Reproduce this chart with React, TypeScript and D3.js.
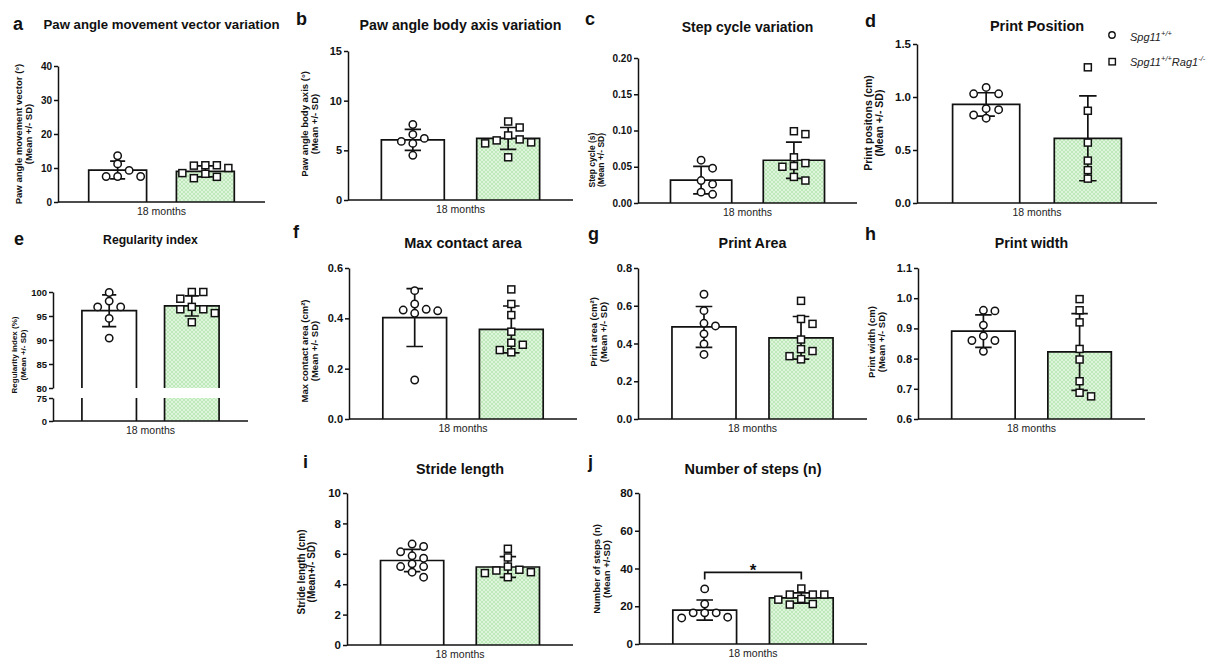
import React, { useRef, useEffect } from 'react';
import * as d3 from 'd3';

const FONT = '"Liberation Sans", Arial, Helvetica, sans-serif';

// two genotypes, one time point
const groups = ['Spg11+/+', 'Spg11+/+Rag1-/-'];
const category = '18 months';

// a - paw angle movement vector (°)
const pawMoveWT = [13.6, 11.2, 9.3, 7.5, 7.5, 7.5];
const pawMoveRag = [10.8, 10.8, 10.7, 10.0, 8.5, 8.3, 7.4, 7.0];
const pawMoveMean = [9.4, 9.0];
const pawMoveSD = [2.6, 1.6];
const pawMoveTicks = [0, 10, 20, 30, 40];

// b - paw angle body axis (°)
const pawBodyWT = [7.6, 6.6, 6.2, 5.9, 5.7, 4.5];
const pawBodyRag = [7.9, 7.3, 6.5, 6.1, 6.0, 5.8, 5.7, 4.3];
const pawBodyMean = [6.05, 6.2];
const pawBodySD = [1.05, 1.1];
const pawBodyTicks = [0, 5, 10, 15];

// c - step cycle (s)
const stepCycleWT = [0.059, 0.048, 0.031, 0.026, 0.015, 0.012];
const stepCycleRag = [0.099, 0.095, 0.063, 0.055, 0.051, 0.05, 0.036, 0.031];
const stepCycleMean = [0.0315, 0.059];
const stepCycleSD = [0.019, 0.025];
const stepCycleTicks = [0, 0.05, 0.1, 0.15, 0.2];

// d - print positions (cm)
const printPosWT = [1.09, 1.03, 1.03, 0.89, 0.88, 0.83, 0.8];
const printPosRag = [1.28, 0.87, 0.57, 0.4, 0.31, 0.23];
const printPosMean = [0.93, 0.61];
const printPosSD = [0.11, 0.4];
const printPosTicks = [0, 0.5, 1.0, 1.5];

// e - regularity index (%), broken axis
const regularityWT = [99.9, 98.1, 96.9, 96.9, 94.5, 90.4];
const regularityRag = [100, 100, 98.6, 96.9, 96.4, 96.4, 95.6, 93.7];
const regularityMean = [96.1, 97.1];
const regularitySD = [3.3, 2.1];
const regularityTicksLow = [0, 75];
const regularityTicksHigh = [80, 85, 90, 95, 100];

// f - max contact area (cm²)
const maxContactWT = [0.51, 0.457, 0.436, 0.433, 0.43, 0.42, 0.155];
const maxContactRag = [0.515, 0.457, 0.413, 0.347, 0.303, 0.295, 0.274, 0.265];
const maxContactMean = [0.403, 0.356];
const maxContactSD = [0.115, 0.093];
const maxContactTicks = [0, 0.2, 0.4, 0.6];

// g - print area (cm²)
const printAreaWT = [0.661, 0.574, 0.507, 0.493, 0.451, 0.398, 0.342];
const printAreaRag = [0.626, 0.53, 0.504, 0.421, 0.37, 0.36, 0.333, 0.316];
const printAreaMean = [0.488, 0.43];
const printAreaSD = [0.108, 0.113];
const printAreaTicks = [0, 0.2, 0.4, 0.6, 0.8];

// h - print width (cm)
const printWidthWT = [0.96, 0.958, 0.911, 0.875, 0.86, 0.86, 0.824];
const printWidthRag = [0.997, 0.96, 0.92, 0.832, 0.797, 0.725, 0.687, 0.675];
const printWidthMean = [0.891, 0.822];
const printWidthSD = [0.054, 0.127];
const printWidthTicks = [0.6, 0.7, 0.8, 0.9, 1.0, 1.1];

// i - stride length (cm)
const strideWT = [6.64, 6.48, 6.13, 5.87, 5.71, 5.34, 5.16, 5.16, 4.79, 4.46];
const strideRag = [6.33, 5.76, 5.16, 4.95, 4.9, 4.79, 4.73, 4.46];
const strideMean = [5.56, 5.13];
const strideSD = [0.73, 0.68];
const strideTicks = [0, 2, 4, 6, 8, 10];

// j - number of steps
const stepsWT = [29.2, 21.2, 16.5, 16.5, 16.5, 14.2, 13.8];
const stepsRag = [29.4, 26.2, 26.2, 26.2, 23.9, 23.5, 21.2, 20.9];
const stepsMean = [18.0, 24.4];
const stepsSD = [5.3, 2.7];
const stepsTicks = [0, 20, 40, 60, 80];
const stepsSignif = { level: 38, drop: 34.2, label: '*' };

const panels: any[] = [
  { letter: 'a', lx: 13, ly: 30, title: 'Paw angle movement vector variation', ts: 13.2, ty: 29,
    left: 58, right: 265, segs: [{ domain: [0, 40], range: [202, 66], ticks: pawMoveTicks }], fmt: 'd', tk: 10,
    wt: pawMoveWT, rag: pawMoveRag, mean: pawMoveMean, sd: pawMoveSD,
    ylab: ['Paw angle movement vector (°)', '(Mean +/- SD)'], ys: 9.5, yx: [22, 31.5], yc: 134 },
  { letter: 'b', lx: 296, ly: 25, title: 'Paw angle body axis variation', ts: 14.2, ty: 30,
    left: 348, right: 573, segs: [{ domain: [0, 15], range: [200, 51], ticks: pawBodyTicks }], fmt: 'd', tk: 11,
    wt: pawBodyWT, rag: pawBodyRag, mean: pawBodyMean, sd: pawBodySD,
    ylab: ['Paw angle body axis (°)', '(Mean +/- SD)'], ys: 9.5, yx: [308, 317.5], yc: 124 },
  { letter: 'c', lx: 585, ly: 25, title: 'Step cycle variation', ts: 14, ty: 32,
    left: 638, right: 857, segs: [{ domain: [0, 0.2], range: [203, 58], ticks: stepCycleTicks }], fmt: '.2f', tk: 10,
    wt: stepCycleWT, rag: stepCycleRag, mean: stepCycleMean, sd: stepCycleSD,
    ylab: ['Step cycle (s)', '(Mean +/- SD)'], ys: 8.5, yx: [595, 604], yc: 160 },
  { letter: 'd', lx: 865, ly: 27, title: 'Print Position', ts: 14.5, ty: 31,
    left: 917, right: 1157, segs: [{ domain: [0, 1.5], range: [203, 44], ticks: printPosTicks }], fmt: '.1f', tk: 11.5,
    wt: printPosWT, rag: printPosRag, mean: printPosMean, sd: printPosSD, step: 12.5,
    ylab: ['Print positons (cm)', '(Mean +/- SD)'], ys: 10.5, yx: [872, 882.5], yc: 123 },
  { letter: 'e', lx: 14, ly: 245, title: 'Regularity index', ts: 12.2, ty: 244,
    left: 53, right: 248,
    segs: [
      { domain: [0, 75], range: [421, 398], ticks: regularityTicksLow },
      { domain: [80, 100], range: [388, 292], ticks: regularityTicksHigh },
    ], fmt: 'd', tk: 9.5,
    wt: regularityWT, rag: regularityRag, mean: regularityMean, sd: regularitySD,
    ylab: ['Regularity index (%)', '(Mean +/- SD)'], ys: 8, yx: [17, 25.5], yc: 355 },
  { letter: 'f', lx: 293, ly: 238, title: 'Max contact area', ts: 14.5, ty: 248,
    left: 349, right: 577, segs: [{ domain: [0, 0.6], range: [419, 268], ticks: maxContactTicks }], fmt: '.1f', tk: 11,
    wt: maxContactWT, rag: maxContactRag, mean: maxContactMean, sd: maxContactSD,
    ylab: ['Max contact area (cm²)', '(Mean +/- SD)'], ys: 9.5, yx: [308, 317.5], yc: 351 },
  { letter: 'g', lx: 588, ly: 240, title: 'Print Area', ts: 14.3, ty: 248,
    left: 638, right: 867, segs: [{ domain: [0, 0.8], range: [419, 268], ticks: printAreaTicks }], fmt: '.1f', tk: 11,
    wt: printAreaWT, rag: printAreaRag, mean: printAreaMean, sd: printAreaSD,
    ylab: ['Print area (cm²)', '(Mean +/- SD)'], ys: 9.5, yx: [597, 606.5], yc: 332 },
  { letter: 'h', lx: 865, ly: 240, title: 'Print width', ts: 14.2, ty: 248,
    left: 918, right: 1145, segs: [{ domain: [0.6, 1.1], range: [419, 268], ticks: printWidthTicks }], fmt: '.1f', tk: 11,
    wt: printWidthWT, rag: printWidthRag, mean: printWidthMean, sd: printWidthSD,
    ylab: ['Print width (cm)', '(Mean +/- SD)'], ys: 9.5, yx: [875, 884.5], yc: 342 },
  { letter: 'i', lx: 303, ly: 468, title: 'Stride length', ts: 14.4, ty: 474,
    left: 347, right: 573, segs: [{ domain: [0, 10], range: [645, 493], ticks: strideTicks }], fmt: 'd', tk: 11.5,
    wt: strideWT, rag: strideRag, mean: strideMean, sd: strideSD,
    ylab: ['Stride length (cm)', '(Mean+/- SD)'], ys: 10, yx: [305, 315], yc: 572 },
  { letter: 'j', lx: 588, ly: 468, title: 'Number of steps (n)', ts: 14.5, ty: 474,
    left: 639, right: 867, segs: [{ domain: [0, 80], range: [644, 493], ticks: stepsTicks }], fmt: 'd', tk: 11.5,
    wt: stepsWT, rag: stepsRag, mean: stepsMean, sd: stepsSD, signif: stepsSignif,
    ylab: ['Number of steps  (n)', '(Mean +/-SD)'], ys: 9.5, yx: [600, 609.5], yc: 569 },
];

// simple beeswarm: each point takes the nearest free horizontal slot
function swarm(values: number[], y: (v: number) => number, cx: number, step: number) {
  const placed: { x: number; y: number }[] = [];
  const cands = [0];
  for (let k = 1; k <= 12; k++) cands.push((k * step) / 2, (-k * step) / 2);
  const sorted = [...values].sort((a, b) => b - a);
  sorted.forEach(v => {
    const py = y(v);
    for (const c of cands) {
      const px = cx + c;
      const hit = placed.some(p => Math.abs(p.y - py) < 8 && Math.abs(p.x - px) < step * 0.95);
      if (!hit) { placed.push({ x: px, y: py }); break; }
    }
  });
  return placed;
}

function drawPanel(svg: any, p: any) {
  const g = svg.append('g');
  const x = d3.scaleBand().domain(groups).range([p.left, p.right]).paddingInner(0.34).paddingOuter(0.35);
  const bw = x.bandwidth();
  const segs = p.segs.map((s: any) => ({ ...s, scale: d3.scaleLinear().domain(s.domain).range(s.range) }));
  const y = (v: number) => {
    const s = segs.find((s: any) => v >= s.domain[0] && v <= s.domain[1]) || segs[segs.length - 1];
    return s.scale(v);
  };
  const base = segs[0].range[0];

  // bars (split across segments when the axis is broken)
  groups.forEach((grp, i) => {
    const x0 = x(grp)!;
    const m = p.mean[i];
    segs.forEach((s: any) => {
      if (m <= s.domain[0]) return;
      const yb = s.scale(s.domain[0]);
      const yt = s.scale(Math.min(m, s.domain[1]));
      g.append('rect').attr('x', x0).attr('y', yt).attr('width', bw).attr('height', yb - yt)
        .attr('fill', i === 0 ? '#fff' : 'url(#hatch)');
      const d = m <= s.domain[1]
        ? `M${x0},${yb}V${yt}H${x0 + bw}V${yb}`
        : `M${x0},${yb}V${yt}M${x0 + bw},${yt}V${yb}`;
      g.append('path').attr('d', d).attr('fill', 'none').attr('stroke', '#111').attr('stroke-width', 1.7);
    });
  });

  // axes
  segs.forEach((s: any) => {
    const ax = g.append('g').attr('transform', `translate(${p.left},0)`)
      .call(d3.axisLeft(s.scale).tickValues(s.ticks).tickSize(4).tickSizeOuter(0).tickPadding(2)
        .tickFormat(d3.format(p.fmt) as any));
    ax.select('.domain').attr('stroke', '#111').attr('stroke-width', 1.5);
    ax.selectAll('.tick line').attr('stroke', '#111').attr('stroke-width', 1.5);
    ax.selectAll('.tick text').attr('fill', '#111').attr('font-family', FONT)
      .attr('font-weight', 'bold').attr('font-size', p.tk);
  });
  g.append('line').attr('x1', p.left).attr('x2', p.right).attr('y1', base).attr('y2', base)
    .attr('stroke', '#111').attr('stroke-width', 1.6);

  // error bars
  groups.forEach((grp, i) => {
    const cx = x(grp)! + bw / 2;
    const hi = y(p.mean[i] + p.sd[i]);
    const lo = y(p.mean[i] - p.sd[i]);
    const cw = bw * 0.13;
    g.append('path')
      .attr('d', `M${cx},${lo}V${hi}M${cx - cw},${hi}H${cx + cw}M${cx - cw},${lo}H${cx + cw}`)
      .attr('fill', 'none').attr('stroke', '#111').attr('stroke-width', 1.7);
  });

  // individual animals
  const step = p.step || 11.5;
  swarm(p.wt, y, x(groups[0])! + bw / 2, step).forEach(pt => {
    g.append('circle').attr('cx', pt.x).attr('cy', pt.y).attr('r', 3.7)
      .attr('fill', '#fff').attr('stroke', '#111').attr('stroke-width', 1.5);
  });
  swarm(p.rag, y, x(groups[1])! + bw / 2, step).forEach(pt => {
    g.append('rect').attr('x', pt.x - 3.5).attr('y', pt.y - 3.5).attr('width', 7).attr('height', 7)
      .attr('fill', '#fff').attr('stroke', '#111').attr('stroke-width', 1.5);
  });

  // significance bracket
  if (p.signif) {
    const c0 = x(groups[0])! + bw / 2;
    const c1 = x(groups[1])! + bw / 2;
    const yl = y(p.signif.level);
    const yd = y(p.signif.drop);
    g.append('path').attr('d', `M${c0},${yd}V${yl}H${c1}V${yd}`)
      .attr('fill', 'none').attr('stroke', '#111').attr('stroke-width', 1.7);
    g.append('text').attr('x', (c0 + c1) / 2).attr('y', yl + 4).attr('text-anchor', 'middle')
      .attr('font-family', FONT).attr('font-weight', 'bold').attr('font-size', 17).attr('fill', '#111')
      .text(p.signif.label);
  }

  // texts
  g.append('text').attr('x', (p.left + p.right) / 2).attr('y', base + 13).attr('text-anchor', 'middle')
    .attr('font-family', FONT).attr('font-size', 10.5).attr('fill', '#222').text(category);
  g.append('text').attr('x', (p.left + p.right) / 2).attr('y', p.ty).attr('text-anchor', 'middle')
    .attr('font-family', FONT).attr('font-weight', 'bold').attr('font-size', p.ts).attr('fill', '#111')
    .text(p.title);
  g.append('text').attr('x', p.lx).attr('y', p.ly)
    .attr('font-family', FONT).attr('font-weight', 'bold').attr('font-size', 18).attr('fill', '#111')
    .text(p.letter);
  p.ylab.forEach((line: string, k: number) => {
    g.append('text').attr('transform', `translate(${p.yx[k]},${p.yc}) rotate(-90)`)
      .attr('text-anchor', 'middle').attr('font-family', FONT).attr('font-weight', 'bold')
      .attr('font-size', p.ys).attr('fill', '#111').text(line);
  });
}

export default function App() {
  const svgRef = useRef<SVGSVGElement>(null);

  useEffect(() => {
    const svg = d3.select(svgRef.current);
    svg.selectAll('*').remove();

    const pat = svg.append('defs').append('pattern').attr('id', 'hatch')
      .attr('patternUnits', 'userSpaceOnUse').attr('width', 4).attr('height', 4);
    pat.append('rect').attr('width', 4).attr('height', 4).attr('fill', '#ddf5da');
    pat.append('path').attr('d', 'M0,0L4,4M4,0L0,4').attr('stroke', '#b9e6b4').attr('stroke-width', 0.8);

    panels.forEach(p => drawPanel(svg, p));

    // legend
    const lg = svg.append('g').attr('font-family', FONT).attr('font-style', 'italic').attr('fill', '#222');
    lg.append('circle').attr('cx', 1112).attr('cy', 35).attr('r', 3.2)
      .attr('fill', '#fff').attr('stroke', '#111').attr('stroke-width', 1.4);
    lg.append('rect').attr('x', 1109).attr('y', 58.5).attr('width', 6.4).attr('height', 6.4)
      .attr('fill', '#fff').attr('stroke', '#111').attr('stroke-width', 1.4);
    const t1 = lg.append('text').attr('x', 1130).attr('y', 40.5).attr('font-size', 11);
    t1.append('tspan').text('Spg11');
    t1.append('tspan').attr('dy', -5).attr('font-size', 7.5).text('+/+');
    const t2 = lg.append('text').attr('x', 1130).attr('y', 65.5).attr('font-size', 11);
    t2.append('tspan').text('Spg11');
    t2.append('tspan').attr('dy', -5).attr('font-size', 7.5).text('+/+');
    t2.append('tspan').attr('dy', 5).text('Rag1');
    t2.append('tspan').attr('dy', -5).attr('font-size', 7.5).text('-/-');
  }, []);

  return (
    <svg ref={svgRef} width={1214} height={661}
      style={{ position: 'absolute', left: 0, top: 0, background: '#fff' }} />
  );
}
